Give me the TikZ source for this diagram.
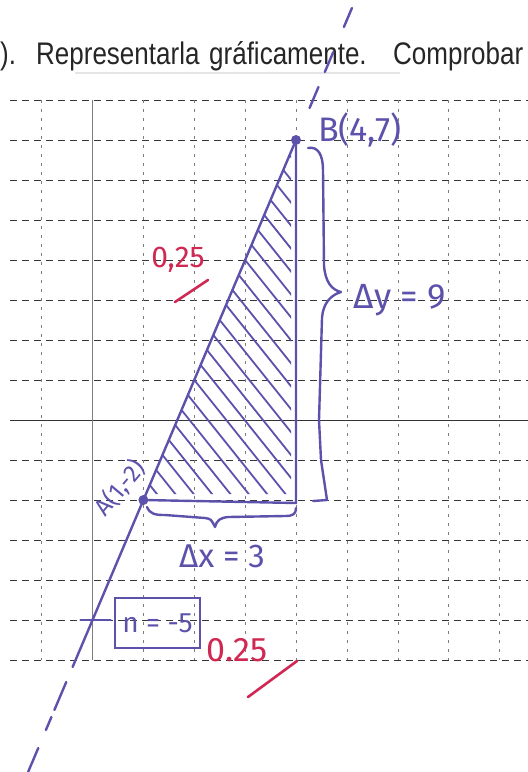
\documentclass[tikz,border=0pt]{standalone}
\usepackage{fontspec}
\setmainfont{Liberation Sans}
\newfontfamily\hand{Fira Sans}
\usetikzlibrary{calc}
\definecolor{ink}{RGB}{92,82,172}
\definecolor{redink}{RGB}{208,40,82}
\definecolor{gridc}{RGB}{55,55,55}
\definecolor{gridv}{RGB}{125,125,125}
\begin{document}
\begin{tikzpicture}[x=1pt,y=-1pt,
  hline/.style={gridc, line width=1pt, dash pattern=on 7pt off 5pt},
  vline/.style={gridv, line width=0.8pt, dash pattern=on 3pt off 6pt},
  axisline/.style={black!80, line width=1pt},
  yaxisline/.style={gridv, line width=0.8pt},
  inkline/.style={ink, line width=2.4pt, line cap=round, line join=round},
  hatchline/.style={ink, line width=1.8pt, line cap=round},
  redline/.style={redink, line width=2.6pt, line cap=round},
  handtext/.style={ink, font=\hand\fontsize{33}{35}\selectfont, inner sep=0pt},
  redtext/.style={redink, font=\hand\fontsize{30}{32}\selectfont, inner sep=0pt},
  headtext/.style={font=\fontsize{26}{30}\selectfont, inner sep=0pt, anchor=base west, text=black!85, yscale=1.2},
  inkdot/.style={circle, fill=ink, inner sep=0pt, minimum size=10pt},
  nbox/.style={draw=ink, line width=2.2pt, ink, font=\hand\fontsize{28}{30}\selectfont, minimum width=85pt, minimum height=50pt, inner sep=0pt},
]
\useasboundingbox (0,0) rectangle (528,772);
\fill[white] (0,0) rectangle (528,772);

% header text
\node[headtext] (h1) at (0,64) {).};
\node[headtext] (h2) at (36,64) {Representarla};
\node[headtext] (h3) at (209,64) {gráficamente.};
\node[headtext] (h4) at (393,64) {Comprobar};
\draw[black!10, line width=2pt] (75,73) -- (400,73);

% grid
\foreach \j in {0,...,7,9,10,...,14}
  \draw[hline] (10,{100+40*\j}) -- (528,{100+40*\j});
\draw[axisline] (10,420) -- (528,420);
\foreach \i in {0,2,3,...,9}
  \draw[vline] ({41.6+50.9*\i},100) -- ({41.6+50.9*\i},660);
\draw[yaxisline] (92.5,100) -- (92.5,660);

% points
\coordinate (O) at (92.5,420);
\node[inkdot] (A) at (143.4,500) {};
\node[inkdot] (B) at (296,140) {};
\coordinate (C) at (296,503);
\coordinate (N) at (92.5,620);

% hatching
\begin{scope}
  \clip (143.4,500) -- (296,140) -- (291,152) -- (291,494) -- (146,494) -- cycle;
  \foreach \s in {1,...,23}
    \draw[hatchline] ($(A)!\s/24!(B)$) -- ++(220,275);
\end{scope}

% triangle legs
\draw[inkline] (A) -- (C) -- (B);

% main line
\draw[inkline] ($(A)!-0.4639!(B)$) -- (B);
\draw[inkline] ($(A)!1.0889!(B)$) -- ($(A)!1.1472!(B)$);
\draw[inkline] ($(A)!1.1889!(B)$) -- ($(A)!1.2444!(B)$);
\draw[inkline] ($(A)!1.3139!(B)$) -- ($(A)!1.3667!(B)$);
\draw[inkline] ($(A)!-0.5056!(B)$) -- ($(A)!-0.5833!(B)$);
\draw[inkline] ($(A)!-0.6028!(B)$) -- ($(A)!-0.6389!(B)$);
\draw[inkline] ($(A)!-0.6889!(B)$) -- ($(A)!-0.7556!(B)$);

% intercept tick
\draw[inkline] ($(N)+(-12,0)$) -- ($(N)+(18,0)$);

% braces
\draw[inkline] (308,148) .. controls (318,146) and (323,155) .. (323,170)
  -- (324,265) .. controls (325,282) and (332,290) .. (341,292)
  .. controls (331,295) and (323,303) .. (322,318)
  -- (319,420) -- (321,460) .. controls (324,480) .. (327,500) -- (313,501);
\draw[inkline] (147,507) .. controls (150,514) and (155,515) .. (165,515)
  -- (205,518) .. controls (211,519) .. (215,527)
  .. controls (217,520) and (220,518) .. (228,517)
  -- (285,516) .. controls (293,516) and (296,514) .. (296,508);

% labels
\node[handtext, anchor=west, font=\hand\fontsize{34}{36}\selectfont] (Blab) at (318,130) {B(4,7)};
\node[handtext, font=\hand\fontsize{35}{37}\selectfont] (dy) at (400,300) {Δy = 9};
\node[handtext] (dx) at (222,556) {Δx = 3};
\node[handtext, font=\hand\fontsize{24}{26}\selectfont, rotate=50] (Alab) at (120,488) {A(1,-2)};
\node[nbox] (nb) at (157.5,623) {n = -5};

% red marks
\node[redtext] (r1) at (178,260) {0,25};
\draw[redline] (175,302) -- (208,280);
\node[redtext, font=\hand\fontsize{34}{36}\selectfont] (r2) at (237,650) {0.25};
\draw[redline] (248,697) -- (297,661);
\end{tikzpicture}
\end{document}
